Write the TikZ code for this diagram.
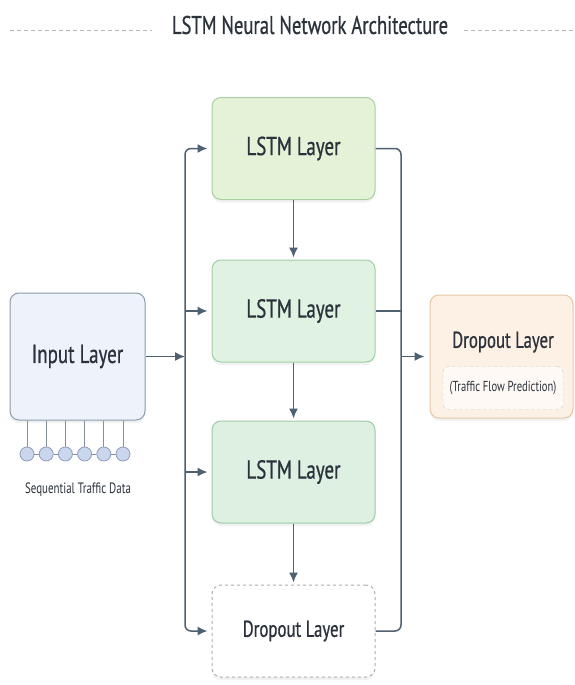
\documentclass[tikz,border=0pt]{standalone}
\usepackage{fontspec}
\setmainfont{PT Sans}[FakeStretch=0.73]
\newfontfamily\labelfont{PT Sans}[FakeStretch=0.73, FakeBold=0.7]
\usetikzlibrary{arrows.meta,shadows}

\definecolor{ink}{HTML}{2B323B}
\definecolor{wire}{HTML}{4F6070}
\definecolor{rulegray}{HTML}{AEB6BE}
\definecolor{lstmfillA}{HTML}{E4F2D8}
\definecolor{lstmdrawA}{HTML}{A9CF9E}
\definecolor{lstmfillB}{HTML}{E0F2E2}
\definecolor{lstmdrawB}{HTML}{9FCFA4}
\definecolor{lstmfillC}{HTML}{DDF0E2}
\definecolor{lstmdrawC}{HTML}{9ECBA8}
\definecolor{dropdraw}{HTML}{A8B0B8}
\definecolor{inputfill}{HTML}{EEF3FB}
\definecolor{inputdraw}{HTML}{8C9AAE}
\definecolor{outfill}{HTML}{FDF0E4}
\definecolor{outdraw}{HTML}{E6C7A6}
\definecolor{dotfill}{HTML}{C9D6EE}
\definecolor{dotdraw}{HTML}{8E9DBA}

\tikzset{
  layer/.style={rounded corners=9pt, line width=1pt, text=ink,
    font=\labelfont\fontsize{26}{30}\selectfont,
    drop shadow={shadow xshift=0pt, shadow yshift=-3pt, opacity=0.10}},
  lstmbox/.style={layer, minimum width=163pt, minimum height=102pt},
  arr/.style={draw=wire, line width=1.5pt, -{Latex[length=10pt,width=9pt]}},
  wireline/.style={draw=wire, line width=1.5pt},
  dot/.style={circle, draw=dotdraw, fill=dotfill, line width=0.8pt,
    minimum size=14pt, inner sep=0pt},
  tick/.style={draw=wire!70, line width=0.7pt},
  small/.style={text=ink, font=\fontsize{15}{17}\selectfont},
  rule/.style={draw=rulegray, line width=1pt, dash pattern=on 4pt off 3pt}
}

\begin{document}
\begin{tikzpicture}[x=1pt,y=-1pt]
\useasboundingbox[fill=white] (0,0) rectangle (575,685);

% title
\node[text=ink, font=\labelfont\fontsize{25.5}{30}\selectfont] (title) at (310,25) {LSTM Neural Network Architecture};
\coordinate (ruleL) at (10,31);
\coordinate (ruleR) at (575,31);
\draw[rule] (ruleL) -- (152,31);
\draw[rule] (464,31) -- (ruleR);

% layers
\node[lstmbox, fill=lstmfillA, draw=lstmdrawA] (lstm1) at (293.5,148.5) {LSTM Layer};
\node[lstmbox, fill=lstmfillB, draw=lstmdrawB] (lstm2) at (293.5,311) {LSTM Layer};
\node[lstmbox, fill=lstmfillC, draw=lstmdrawC] (lstm3) at (293.5,472) {LSTM Layer};
\node[layer, fill=white, draw=dropdraw, dashed, font=\labelfont\fontsize{23}{27}\selectfont,
  minimum width=163pt, minimum height=92pt] (drop) at (293.5,631) {Dropout Layer};

\node[layer, fill=inputfill, draw=inputdraw, minimum width=135pt, minimum height=127pt] (input) at (77.5,356.5) {Input Layer};

\node[layer, fill=outfill, draw=outdraw, minimum width=143pt, minimum height=123pt] (output) at (501.5,356.5) {};
\node[text=ink, font=\labelfont\fontsize{23}{27}\selectfont] (outname) at (503,342) {Dropout Layer};
\node[small, font=\fontsize{14.5}{17}\selectfont, draw=dropdraw!70, dashed, fill=white!60!outfill, rounded corners=6pt,
  minimum width=120pt, minimum height=43pt] (outnote) at (503,388) {(Traffic Flow Prediction)};

% sequence dots
\foreach \i in {0,...,5}
  \node[dot] (c\i) at (27+19.2*\i,454) {};
\foreach \i [count=\j] in {0,...,4}
  \draw[tick] (c\i.east) -- (c\j.west);
\foreach \i in {0,...,5}
  \draw[tick] (c\i |- input.south) -- (c\i.north);
\node[small] (seqlabel) at (78,490) {Sequential Traffic Data};

% left bus
\coordinate (ljoin) at (185,356.5);
\draw[arr] (input.east) -- (ljoin);
\draw[arr, rounded corners=6pt] (ljoin) |- ([xshift=-4pt]lstm1.west);
\draw[arr] (ljoin |- lstm2.west) -- ([xshift=-4pt]lstm2.west);
\draw[arr] (ljoin |- lstm3.west) -- ([xshift=-4pt]lstm3.west);
\draw[arr, rounded corners=6pt] (ljoin) |- ([xshift=-4pt]drop.west);

% down the stack
\draw[arr, shorten >=2pt] (lstm1) -- (lstm2);
\draw[arr, shorten >=2pt] (lstm2) -- (lstm3);
\draw[arr, shorten >=2pt] (lstm3) -- (drop);

% right bus
\coordinate (rjoin) at (401,356.5);
\draw[wireline, rounded corners=6pt] (lstm1.east) -| (rjoin);
\draw[wireline] (lstm2.east) -- (rjoin |- lstm2.east);
\draw[wireline, rounded corners=6pt] (drop.east) -| (rjoin);
\draw[arr, shorten >=5pt] (rjoin) -- (output.west);
\end{tikzpicture}
\end{document}
